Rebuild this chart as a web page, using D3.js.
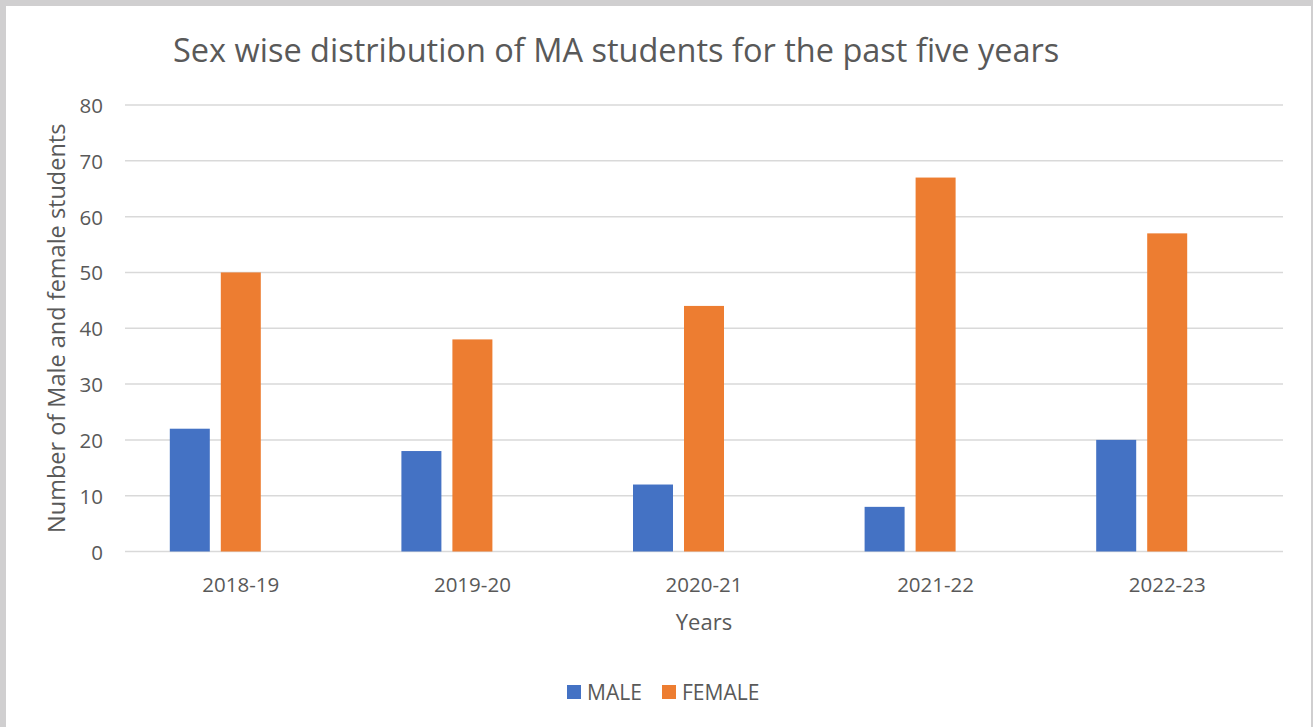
<!DOCTYPE html>
<html>
<head>
<meta charset="utf-8">
<script src="https://cdn.jsdelivr.net/npm/d3@7/dist/d3.min.js"></script>
<style>
  html, body { margin: 0; padding: 0; background: #fff; }
  text { font-family: "Open Sans", "Liberation Sans", sans-serif; fill: #595959; }
</style>
</head>
<body>
<div id="chart"></div>
<script>
const years = ['2018-19', '2019-20', '2020-21', '2021-22', '2022-23'];
const seriesNames = ['MALE', 'FEMALE'];
const maleValues = [22, 18, 12, 8, 20];
const femaleValues = [50, 38, 44, 67, 57];
const yTicks = [0, 10, 20, 30, 40, 50, 60, 70, 80];
const seriesColors = ['#4472c4', '#ed7d31'];

const W = 1313, H = 727;
const plot = { left: 125, right: 1283, top: 105, bottom: 551.5 };

const svg = d3.select('#chart').append('svg')
    .attr('width', W)
    .attr('height', H);

// frame (grey edge of the screenshot)
svg.append('rect').attr('x', 0).attr('y', 0).attr('width', W).attr('height', H).attr('fill', '#d0cfd0');
svg.append('rect').attr('x', 6).attr('y', 6).attr('width', W - 8).attr('height', H - 6).attr('fill', '#fff');

const x0 = d3.scaleBand()
    .domain(years)
    .range([plot.left, plot.right]);

// third slot is empty in the original chart
const x1 = d3.scaleBand()
    .domain(['MALE', 'FEMALE', ''])
    .range([44.8, x0.bandwidth() - 44.8])
    .paddingInner(0.2157);

const y = d3.scaleLinear()
    .domain([0, 80])
    .range([plot.bottom, plot.top]);

// gridlines
svg.append('g')
    .selectAll('line')
    .data(yTicks)
    .join('line')
    .attr('x1', plot.left)
    .attr('x2', plot.right)
    .attr('y1', d => y(d))
    .attr('y2', d => y(d))
    .attr('stroke', '#d9d9d9')
    .attr('stroke-width', 1.5);

// y tick labels
svg.append('g')
    .selectAll('text')
    .data(yTicks)
    .join('text')
    .attr('x', 103)
    .attr('y', d => y(d))
    .attr('text-anchor', 'end')
    .attr('dominant-baseline', 'central')
    .style('font-size', '20.5px')
    .text(d => d);

// bars
const rows = years.map((yr, i) => ({ year: yr, values: [maleValues[i], femaleValues[i]] }));

const groups = svg.append('g')
    .selectAll('g')
    .data(rows)
    .join('g')
    .attr('transform', d => `translate(${x0(d.year)},0)`);

groups.selectAll('rect')
    .data(d => d.values.map((v, k) => ({ key: seriesNames[k], value: v, k })))
    .join('rect')
    .attr('x', d => x1(d.key))
    .attr('width', x1.bandwidth())
    .attr('y', d => y(d.value))
    .attr('height', d => y(0) - y(d.value))
    .attr('fill', d => seriesColors[d.k]);

// category labels
svg.append('g')
    .selectAll('text')
    .data(years)
    .join('text')
    .attr('x', d => x0(d) + x0.bandwidth() / 2)
    .attr('y', 592)
    .attr('text-anchor', 'middle')
    .style('font-size', '20.5px')
    .text(d => d);

// axis titles
svg.append('text')
    .attr('x', 704)
    .attr('y', 630)
    .attr('text-anchor', 'middle')
    .style('font-size', '22px')
    .text('Years');

svg.append('text')
    .attr('transform', `translate(65, ${(plot.top + plot.bottom) / 2}) rotate(-90)`)
    .attr('text-anchor', 'middle')
    .style('font-size', '23.5px')
    .text('Number of Male and female students');

// title
svg.append('text')
    .attr('x', 173)
    .attr('y', 62)
    .style('font-size', '32.5px')
    .text('Sex wise distribution of MA students for the past five years');

// legend
const legendItems = [
    { name: 'MALE', color: seriesColors[0], x: 567 },
    { name: 'FEMALE', color: seriesColors[1], x: 662 }
];
const legend = svg.append('g')
    .selectAll('g')
    .data(legendItems)
    .join('g')
    .attr('transform', d => `translate(${d.x},685)`);

legend.append('rect')
    .attr('width', 14)
    .attr('height', 14)
    .attr('fill', d => d.color);

legend.append('text')
    .attr('x', 20)
    .attr('y', 15)
    .style('font-size', '21px')
    .text(d => d.name);
</script>
</body>
</html>
